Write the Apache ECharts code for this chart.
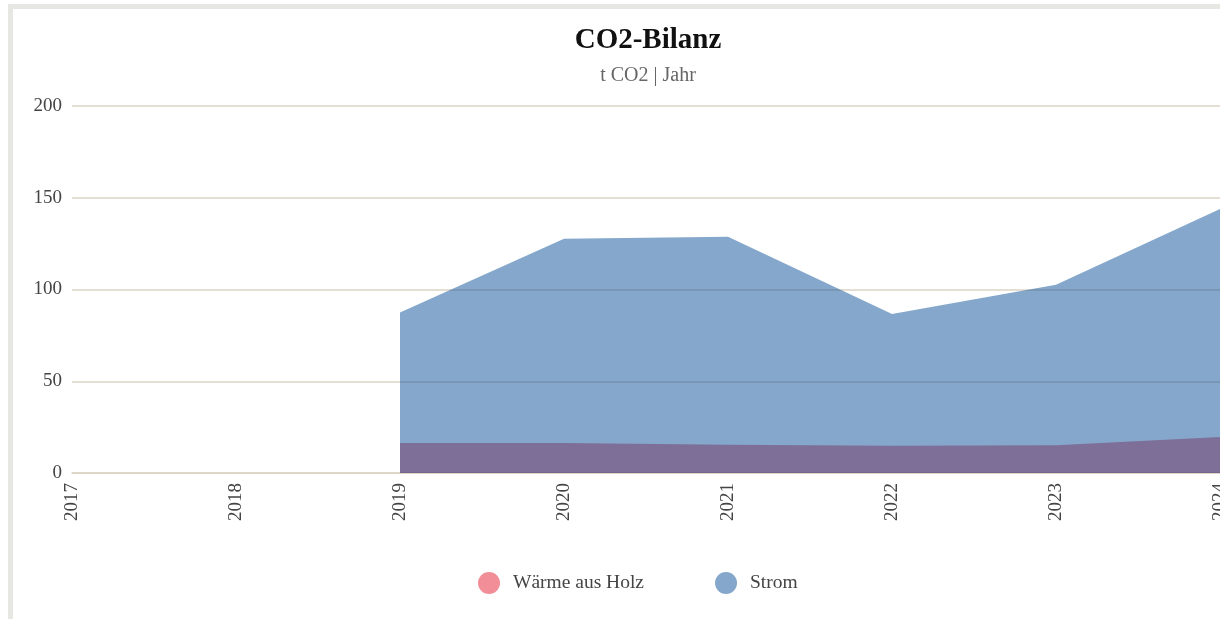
<!DOCTYPE html>
<html>
<head>
<meta charset="utf-8">
<script src="https://cdn.jsdelivr.net/npm/echarts@6/dist/echarts.min.js"></script>
<style>
  html, body { margin: 0; padding: 0; background: #ffffff; overflow: hidden; width: 1220px; height: 619px; }
  #frame { position: absolute; left: 8px; top: 4px; border-left: 5px solid #e6e6e2; border-top: 5px solid #e6e6e2; width: 1300px; height: 700px; background: #fff; }
  #chart { position: absolute; left: 0; top: 0; width: 1270px; height: 640px; }
</style>
</head>
<body>
<div id="frame"><div id="chart"></div></div>
<script>
const years = ['2017', '2018', '2019', '2020', '2021', '2022', '2023', '2024'];
const waermeAusHolz = [null, null, 16.3, 16.3, 15.4, 14.8, 15.1, 19.6];
const strom = [null, null, 87.5, 127.6, 128.7, 86.7, 102.6, 143.9];
const yTicks = [0, 50, 100, 150, 200];

const serif = '"Liberation Serif", "DejaVu Serif", serif';
const chart = echarts.init(document.getElementById('chart'), null, { renderer: 'canvas' });
chart.setOption({
  animation: false,
  backgroundColor: '#ffffff',
  title: {
    text: 'CO2-Bilanz',
    subtext: 't CO2 | Jahr',
    left: 'center',
    top: 12,
    itemGap: 11,
    textStyle: { fontFamily: serif, fontSize: 29, fontWeight: 'bold', color: '#111111' },
    subtextStyle: { fontFamily: serif, fontSize: 20, color: '#666666' }
  },
  legend: {
    left: 460,
    top: 558,
    icon: 'circle',
    itemWidth: 22,
    itemHeight: 22,
    itemGap: 71,
    textStyle: { fontFamily: serif, fontSize: 19.5, color: '#444444', padding: [0, 0, 0, 8] },
    data: ['Wärme aus Holz', 'Strom']
  },
  grid: { left: 59, top: 97, height: 367, right: 63 },
  xAxis: {
    type: 'category',
    data: years,
    boundaryGap: false,
    axisTick: { show: false },
    axisLine: { show: true, lineStyle: { color: '#ddd3c4', width: 1.5 } },
    axisLabel: { rotate: 90, margin: 10, fontFamily: serif, fontSize: 19, color: '#444444' }
  },
  yAxis: {
    type: 'value',
    min: yTicks[0],
    max: yTicks[yTicks.length - 1],
    interval: 50,
    axisLine: { show: false },
    axisTick: { show: false },
    axisLabel: { margin: 10, fontFamily: serif, fontSize: 19, color: '#444444' },
    splitLine: { lineStyle: { color: '#ddd3c4', width: 1.5 } }
  },
  series: [
    {
      name: 'Wärme aus Holz',
      type: 'line',
      data: waermeAusHolz,
      symbol: 'none',
      connectNulls: false,
      itemStyle: { color: '#f28e98' },
      lineStyle: { width: 0, opacity: 0 },
      areaStyle: { color: 'rgba(229,29,49,0.5)', opacity: 1 }
    },
    {
      name: 'Strom',
      type: 'line',
      data: strom,
      symbol: 'none',
      connectNulls: false,
      itemStyle: { color: '#84a7cb' },
      lineStyle: { width: 0, opacity: 0 },
      areaStyle: { color: 'rgba(9,79,151,0.5)', opacity: 1 }
    }
  ]
});
</script>
</body>
</html>
